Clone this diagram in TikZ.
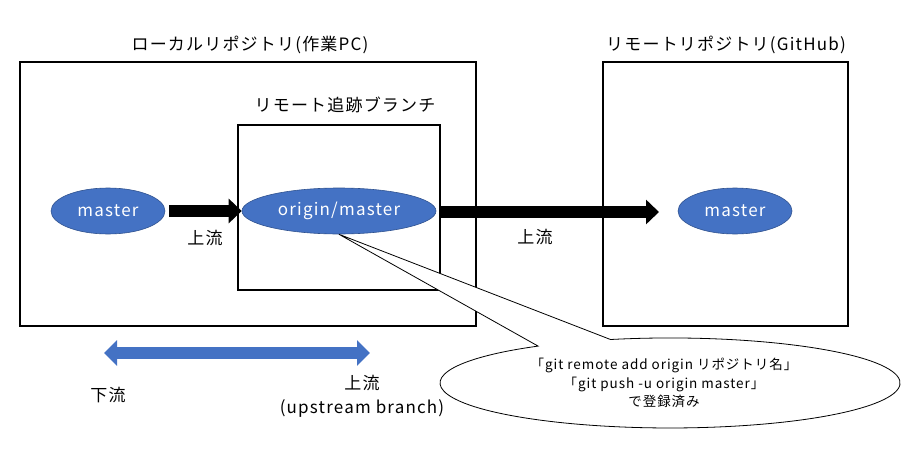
\documentclass[tikz,border=0pt]{standalone}
\usepackage{fontspec}
\setmainfont{Noto Sans CJK JP}[LetterSpace=7]
\usetikzlibrary{shapes.geometric,arrows.meta}
\definecolor{ublue}{HTML}{4472C4}
\definecolor{ubord}{HTML}{2F528F}
\begin{document}
\begin{tikzpicture}[x=1pt,y=-1pt,
  lbl/.style={inner sep=0pt, font=\fontsize{17}{20}\selectfont},
  small/.style={inner sep=0pt, align=center, font=\fontsize{13.5}{18.5}\selectfont},
  frame/.style={draw, line width=1.2pt, inner sep=0pt},
  branch/.style={ellipse, fill=ublue, draw=ubord, line width=0.6pt, inner sep=0pt,
     text=white, font=\fontsize{17}{20}\selectfont},
  blockarrow/.style={line width=12pt, -{Triangle[length=13pt,width=24pt]}},
]
\useasboundingbox (0,0) rectangle (922,453);
% frames
\node[frame, minimum width=456pt, minimum height=264pt] (local) at (248,194) {};
\node[frame, minimum width=245pt, minimum height=264pt] (remote) at (725.5,194) {};
\node[frame, minimum width=202pt, minimum height=165pt] (track) at (339,207.5) {};
% titles
\node[lbl] (tlocal) at (250,45) {ローカルリポジトリ(作業PC)};
\node[lbl] (tremote) at (726,45) {リモートリポジトリ(GitHub)};
\node[lbl] (ttrack) at (345,105) {リモート追跡ブランチ};
% branches
\node[branch, minimum width=114pt, minimum height=46pt] (m1) at (108,211) {master};
\node[branch, minimum width=194pt, minimum height=46pt] (om) at (339,211) {origin/master};
\node[branch, minimum width=114pt, minimum height=46pt] (m2) at (735,211) {master};
% arrows
\coordinate (a1s) at (169,211);
\draw[blockarrow] (a1s) -- (om.west);
\coordinate (a2e) at (659,212);
\draw[blockarrow] (track.east |- a2e) -- (a2e);
\node[lbl] (up1) at (205,238) {上流};
\node[lbl] (up2) at (535,237) {上流};
% blue double arrow
\coordinate (ds) at (104,353);
\coordinate (de) at (370,353);
\draw[line width=12pt, ublue, {Triangle[length=13pt,width=25pt]}-{Triangle[length=13pt,width=25pt]}] (ds) -- (de);
\node[lbl] (down) at (108,395) {下流};
\node[lbl] (up3) at (362,383) {上流};
\node[lbl] (upb) at (362,408) {(upstream branch)};
% callout
\draw[line width=0.8pt, fill=white] (om.south) -- (610.5,339.5)
   arc[start angle=255, end angle=595, x radius=230, y radius=45] -- cycle;
\node[small] (note) at (664,383) {「git remote add origin リポジトリ名」\\「git push -u origin master」\\で登録済み};
\end{tikzpicture}
\end{document}
